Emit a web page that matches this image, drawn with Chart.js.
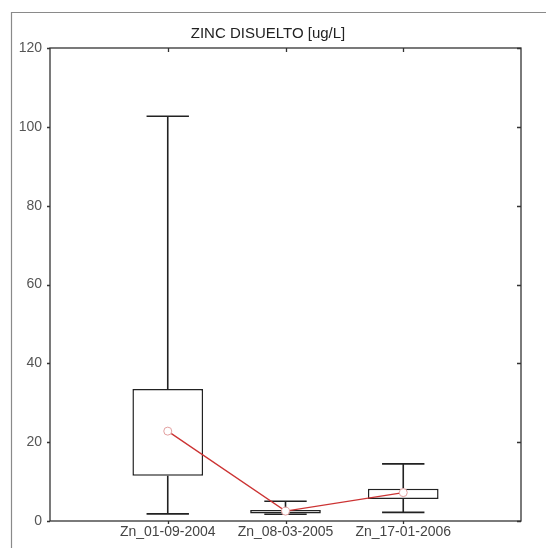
<!DOCTYPE html>
<html>
<head>
<meta charset="utf-8">
<script src="https://cdn.jsdelivr.net/npm/chart.js@4.4.1/dist/chart.umd.min.js"></script>
<style>
  html, body { margin: 0; padding: 0; background: #ffffff; }
  #wrap { width: 546px; height: 548px; position: relative; }
</style>
</head>
<body>
<div id="wrap"><canvas id="c" width="546" height="548"></canvas></div>
<script>
const categories = ['Zn_01-09-2004', 'Zn_08-03-2005', 'Zn_17-01-2006'];
const whiskerLow = [1.8, 1.7, 2.2];
const q1 = [11.5, 1.9, 5.6];
const q3 = [33.5, 2.8, 8.2];
const whiskerHigh = [102.7, 5.0, 14.5];
const means = [22.8, 2.5, 7.2];
const yTicks = [0, 20, 40, 60, 80, 100, 120];
const titleText = 'ZINC DISUELTO [ug/L]';

const FONT = '"Liberation Sans", Arial, sans-serif';

const framePlugin = {
  id: 'framePlugin',
  beforeDraw(chart) {
    const ctx = chart.ctx;
    ctx.save();
    ctx.fillStyle = '#ffffff';
    ctx.fillRect(0, 0, chart.width, chart.height);
    ctx.strokeStyle = '#8a8a8a';
    ctx.lineWidth = 1.2;
    ctx.beginPath();
    ctx.moveTo(11.5, chart.height);
    ctx.lineTo(11.5, 12.5);
    ctx.lineTo(chart.width, 12.5);
    ctx.stroke();
    ctx.fillStyle = '#222';
    ctx.font = '15px ' + FONT;
    ctx.textAlign = 'center';
    ctx.textBaseline = 'middle';
    ctx.fillText(titleText, 268, 34);
    ctx.restore();
  },
  beforeDatasetsDraw(chart) {
    const ctx = chart.ctx;
    const y = chart.scales.y;
    const x = chart.scales.x;
    const meta = chart.getDatasetMeta(0);
    ctx.save();
    ctx.strokeStyle = '#222';
    ctx.lineWidth = 1.6;
    meta.data.forEach((bar, i) => {
      const cx = x.getPixelForValue(i);
      const half = bar.width * 0.3;
      const yLo = y.getPixelForValue(whiskerLow[i]);
      const yQ1 = y.getPixelForValue(q1[i]);
      const yQ3 = y.getPixelForValue(q3[i]);
      const yHi = y.getPixelForValue(whiskerHigh[i]);
      ctx.beginPath();
      ctx.moveTo(cx, yQ3); ctx.lineTo(cx, yHi);
      ctx.moveTo(cx, yQ1); ctx.lineTo(cx, yLo);
      ctx.moveTo(cx - half, yHi); ctx.lineTo(cx + half, yHi);
      ctx.moveTo(cx - half, yLo); ctx.lineTo(cx + half, yLo);
      ctx.stroke();
    });
    ctx.restore();
  },
  afterDraw(chart) {
    const ctx = chart.ctx;
    const a = chart.chartArea;
    const y = chart.scales.y;
    const x = chart.scales.x;
    ctx.save();
    ctx.strokeStyle = '#333';
    ctx.lineWidth = 1.3;
    ctx.strokeRect(a.left, a.top, a.right - a.left, a.bottom - a.top);
    ctx.beginPath();
    yTicks.forEach(v => {
      const py = Math.round(y.getPixelForValue(v)) + 0.5;
      ctx.moveTo(a.right, py); ctx.lineTo(a.right - 4, py);
      ctx.moveTo(a.left, py); ctx.lineTo(a.left - 3, py);
    });
    categories.forEach((c, i) => {
      const px = Math.round(x.getPixelForValue(i)) + 0.5;
      ctx.moveTo(px, a.top); ctx.lineTo(px, a.top + 4);
      ctx.moveTo(px, a.bottom); ctx.lineTo(px, a.bottom + 3);
    });
    ctx.stroke();
    ctx.restore();
  }
};

const boxData = categories.map((c, i) => ({ x: i, y: [q1[i], q3[i]] }));
const meanData = categories.map((c, i) => ({ x: i, y: means[i] }));

new Chart(document.getElementById('c'), {
  type: 'bar',
  data: {
    datasets: [
      {
        type: 'bar',
        data: boxData,
        backgroundColor: '#ffffff',
        borderColor: '#222',
        borderWidth: 1.5,
        borderSkipped: false,
        barPercentage: 0.6,
        categoryPercentage: 1.0,
        order: 2
      },
      {
        type: 'line',
        data: meanData,
        borderColor: '#cc3333',
        borderWidth: 1.3,
        pointRadius: 4,
        pointBackgroundColor: '#ffffff',
        pointBorderColor: '#e3a0a0',
        pointBorderWidth: 1,
        tension: 0,
        order: 1
      }
    ]
  },
  options: {
    responsive: false,
    animation: false,
    devicePixelRatio: 1,
    layout: { padding: { left: 0, right: 25, top: 48, bottom: 0 } },
    plugins: {
      legend: { display: false },
      tooltip: { enabled: false },
      title: { display: false }
    },
    scales: {
      x: {
        type: 'linear',
        min: -1,
        max: 3,
        offset: false,
        grid: { display: false, drawTicks: false },
        border: { display: false },
        afterBuildTicks(scale) { scale.ticks = categories.map((c, i) => ({ value: i })); },
        ticks: {
          color: '#444',
          font: { family: FONT, size: 14 },
          padding: 3,
          maxRotation: 0,
          autoSkip: false,
          callback(value) {
            return (value >= 0 && value < categories.length) ? categories[value] : '';
          }
        },
        afterFit(scale) { scale.height = 27; }
      },
      y: {
        min: 0,
        max: 120,
        grid: { display: false, drawTicks: false },
        border: { display: false },
        afterBuildTicks(scale) { scale.ticks = yTicks.map(v => ({ value: v })); },
        ticks: {
          color: '#555',
          font: { family: FONT, size: 14 },
          padding: 8
        },
        afterFit(scale) { scale.width = 50; }
      }
    }
  },
  plugins: [framePlugin]
});
</script>
</body>
</html>
